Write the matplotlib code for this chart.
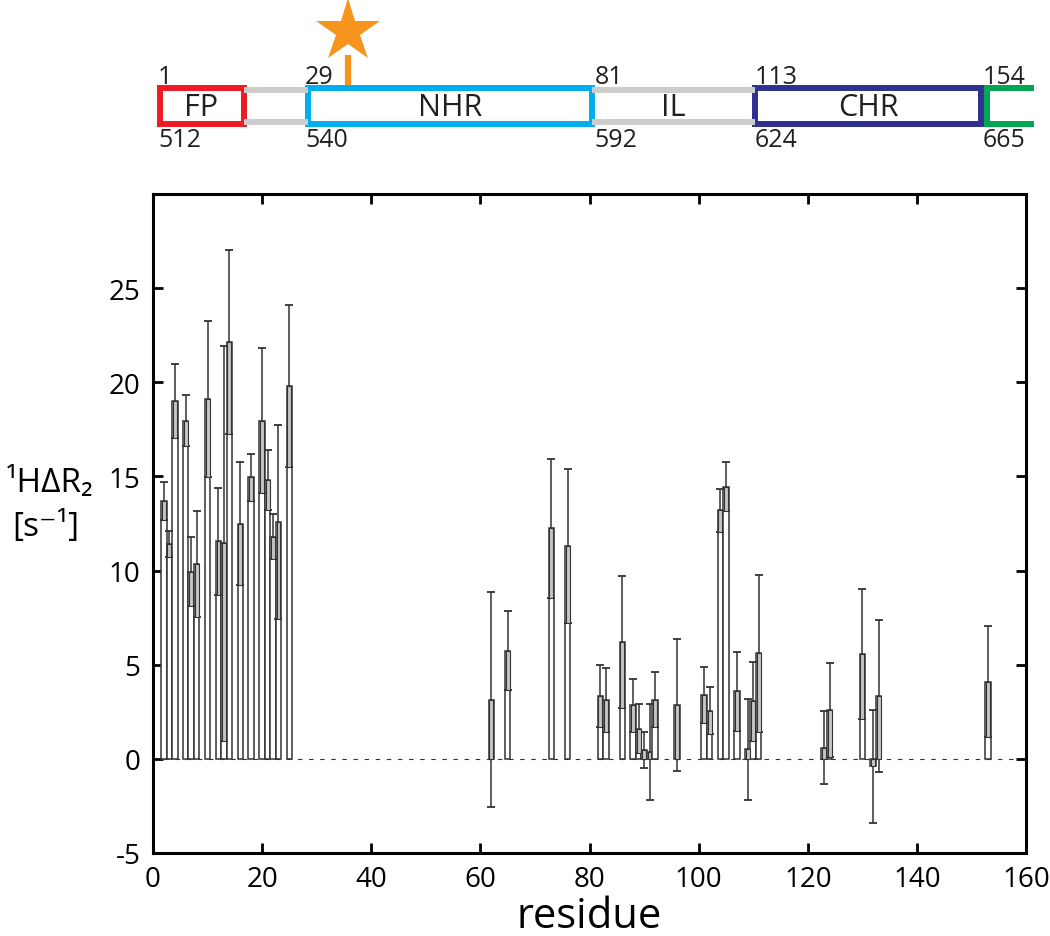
import numpy as np
import matplotlib
matplotlib.use("Agg")
import matplotlib.pyplot as plt
from matplotlib.patches import Rectangle

plt.rcParams['font.family'] = ['Open Sans', 'DejaVu Sans']
plt.rcParams['axes.unicode_minus'] = False

# ---------------------------------------------------------------------------
#  Data
# ---------------------------------------------------------------------------
residue = [2, 3, 4, 6, 7, 8, 10, 12, 13, 14, 16, 18, 20, 21, 22, 23, 25,
           62, 65, 73, 76, 82, 83, 86, 88, 89, 90, 91, 92, 96,
           101, 102, 104, 105, 107, 109, 110, 111, 123, 124, 130, 132, 133, 153]
dR2 = [13.7, 11.4, 19.0, 17.95, 9.95, 10.35, 19.1, 11.55, 11.45, 22.15,
       12.5, 14.95, 17.95, 14.8, 11.8, 12.6, 19.8,
       3.15, 5.75, 12.25, 11.3, 3.35, 3.15, 6.2, 2.85, 1.6, 0.45, 0.35, 3.15, 2.85,
       3.4, 2.55, 13.2, 14.45, 3.6, 0.5, 3.05, 5.6, 0.6, 2.6, 5.55, -0.4, 3.35, 4.1]
dR2_err = [1.0, 0.7, 1.95, 1.35, 1.85, 2.8, 4.15, 2.85, 10.5, 4.9,
           3.25, 1.25, 3.85, 1.6, 1.2, 5.15, 4.3,
           5.7, 2.1, 3.7, 4.1, 1.65, 1.7, 3.5, 1.4, 1.3, 0.95, 2.55, 1.45, 3.5,
           1.5, 1.25, 1.15, 1.3, 2.1, 2.7, 2.1, 4.15, 1.95, 2.5, 3.45, 3.0, 4.05, 2.95]

# domain schematic (residue units, as drawn)
dom_names = ["FP", "NHR", "CHR"]
dom_start = [1.2, 28.4, 110.3]
dom_end = [16.6, 80.4, 151.8]
dom_colors = ["#ed1c24", "#00aeef", "#2e3192"]
linker_start = [16.6, 80.4]
linker_end = [28.4, 110.3]
linker_names = ["", "IL"]
tail_start, tail_end = 152.9, 161.0
num_x = [0.9, 27.9, 80.9, 110.2, 152.0]
num_top = ["1", "29", "81", "113", "154"]
num_bottom = ["512", "540", "592", "624", "665"]
label_site = 35.7

# ---------------------------------------------------------------------------
DARK = "#333333"
TXT = "#231f20"
W, H = 1050, 937

fig = plt.figure(figsize=(W / 100, H / 100), dpi=100)
ax = fig.add_axes([153 / W, 1 - 854 / H, 873 / W, 659 / H])

res = np.array(residue, float)
val = np.array(dR2)
err = np.array(dR2_err)

# lower half of the error range, drawn as a grey box clipped at zero
lo = np.where(val > 0, np.maximum(val - err, 0), val)
hi = np.where(val > 0, val, np.minimum(val + err, 0))

ax.axhline(0, color=DARK, lw=0.8, ls=(0, (4, 6)), zorder=1)
ax.bar(res, val, width=1.0, color="white", edgecolor=DARK, linewidth=1.1, zorder=2)
ax.errorbar(res, val, yerr=err, fmt="none", ecolor=DARK, elinewidth=1.1,
            capsize=3.2, capthick=1.3, zorder=2.5)
ax.bar(res, hi - lo, bottom=lo, width=0.72, color="#c6c6c6", edgecolor=DARK,
       linewidth=0.8, zorder=3)

ax.set_xlim(0, 160)
ax.set_ylim(-5, 30)
ax.set_xticks(np.arange(0, 161, 20))
ax.set_yticks(np.arange(-5, 26, 5))
ax.tick_params(direction="in", length=7, width=2, labelsize=20, pad=9,
               top=True, right=True, colors="black")
for sp in ax.spines.values():
    sp.set_linewidth(2.2)
ax.set_xlabel("residue", fontsize=30, labelpad=1)

fig.text(50 / W, 1 - 484 / H, "¹HΔR₂", fontsize=24, ha="center", va="center")
fig.text(46 / W, 1 - 528 / H, "[s⁻¹]", fontsize=24, ha="center", va="center")

# ---------------------------------------------------------------------------
#  Domain schematic above the plot
# ---------------------------------------------------------------------------
dax = fig.add_axes([153 / W, 1 - 170 / H, 873 / W, 170 / H])
dax.set_xlim(0, 160)
dax.set_ylim(170, 0)
dax.axis("off")

BT, BB = 89, 125
for s, e, name in zip(linker_start, linker_end, linker_names):
    dax.plot([s, e], [90.5, 90.5], color="#cccccc", lw=4.3, solid_capstyle="butt")
    dax.plot([s, e], [122.5, 122.5], color="#cccccc", lw=4.3, solid_capstyle="butt")
    if name:
        dax.text((s + e) / 2, 108, name, fontsize=22, color=TXT,
                 ha="center", va="center")

for s, e, name, c in zip(dom_start, dom_end, dom_names, dom_colors):
    dax.add_patch(Rectangle((s, BT), e - s, BB - BT, facecolor="white",
                            edgecolor=c, lw=4.3, joinstyle="miter"))
    dax.text((s + e) / 2, 108, name, fontsize=22, color=TXT,
             ha="center", va="center")

dax.plot([tail_end, tail_start, tail_start, tail_end], [BT, BT, BB, BB],
         color="#00a651", lw=4.3, solid_joinstyle="miter", clip_on=False)

for x, t, b in zip(num_x, num_top, num_bottom):
    dax.text(x, 84, t, fontsize=18, color=TXT, ha="left", va="baseline")
    dax.text(x, 147, b, fontsize=18, color=TXT, ha="left", va="baseline")

dax.plot([label_site, label_site], [56, 86], color="#f7941d", lw=4.5,
         solid_capstyle="butt", zorder=3)
dax.plot(label_site, 32, marker="*", markersize=48, color="#f7941d",
         markeredgewidth=0, clip_on=False, zorder=4)

fig.savefig("out.png", dpi=100)
